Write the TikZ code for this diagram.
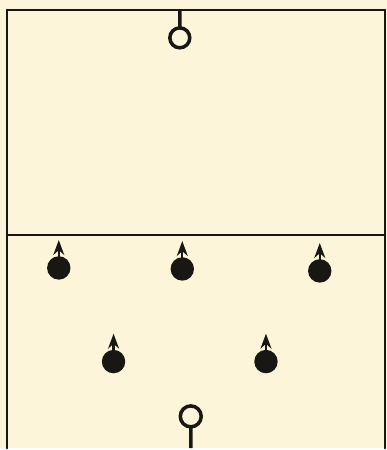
\documentclass[tikz,border=0pt]{standalone}
\usetikzlibrary{arrows.meta,calc}
\usepackage{tkz-euclide}
\definecolor{PaperClr}{rgb}{0.99,0.96,0.85}
\definecolor{InkClr}{rgb}{0.1,0.09,0.08}

\begin{document}
\begin{tikzpicture}
\tkzSetUpLine[line width=1.4pt,color=InkClr]

\fill[PaperClr] (0,0) rectangle (7.76,9);

% court
\tkzDefPoints{0.14/0/BL,0.14/8.8/TL,7.73/8.8/TR,7.73/0/BR,0.14/4.28/ML,7.73/4.28/MR}
% goals
\tkzDefPoints{3.61/8.8/GA,3.61/8.24/Ga,3.83/0/GB,3.83/0.64/Gb}
% players
\tkzDefPoints{1.18/3.62/P,3.66/3.60/Q,6.42/3.56/R,2.28/1.74/S,5.34/1.74/T}

\tkzDrawSegments(BL,TL TL,TR TR,BR ML,MR)

\draw[line width=2pt,color=InkClr] (GA) -- ($(Ga)+(0,0.2)$) (Ga) circle (0.2);
\draw[line width=2pt,color=InkClr] (GB) -- ($(Gb)-(0,0.21)$) (Gb) circle (0.21);

\foreach \p in {P,Q,R,S,T}{
  \fill[InkClr] (\p) circle (0.235);
  \draw[line width=1.3pt,color=InkClr,-{Stealth[length=3mm,width=2.2mm]}]
    (\p) -- ($(\p)+(0,0.56)$);
}

\end{tikzpicture}
\end{document}
